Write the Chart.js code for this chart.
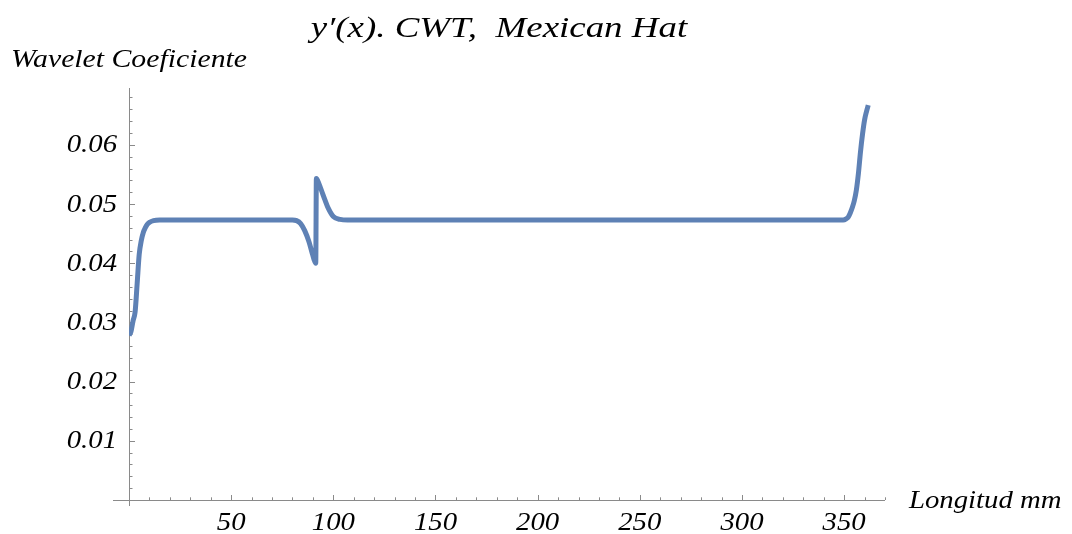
<!DOCTYPE html>
<html>
<head>
<meta charset="utf-8">
<script src="https://cdn.jsdelivr.net/npm/chart.js@4.4.1/dist/chart.umd.min.js"></script>
<style>
html,body{margin:0;padding:0;background:#fff;}
#wrap{width:1072px;height:534px;}
</style>
</head>
<body>
<div id="wrap"><canvas id="c" width="1072" height="534"></canvas></div>
<script>
const titleText = "y\u2032(x). CWT,  Mexican Hat";
const yAxisTitle = "Wavelet Coeficiente";
const xAxisTitle = "Longitud mm";

const xs = [0, 1, 2, 3, 4, 5, 6, 7, 8, 9, 10, 12, 15, 20, 40, 60, 75, 80, 82, 84, 86, 88, 89.5, 90.5, 91.4,
            91.7, 93, 94.3, 95.9, 97.5, 100, 103.3, 107, 120, 200, 300, 349.5, 351, 352, 353, 354, 355,
            356, 357, 358, 359, 360, 361, 361.8];
const ys = [0.0278, 0.0285, 0.0303, 0.0318, 0.0366, 0.0415, 0.0438, 0.0452, 0.0460, 0.0466, 0.0469, 0.0472, 0.0473, 0.0473, 0.0473, 0.0473, 0.0473, 0.0473, 0.0472, 0.0467, 0.0455, 0.0437, 0.0419, 0.0407, 0.0400,
            0.0543, 0.0534, 0.0522, 0.0507, 0.0493, 0.0479, 0.0474, 0.0473, 0.0473, 0.0473, 0.0473, 0.0473, 0.0475, 0.0478, 0.0485, 0.0494, 0.0506,
            0.0524, 0.0552, 0.0588, 0.0618, 0.0642, 0.0657, 0.0667];

const xMin = 0, xMax = 370, xStep = 10, xMajor = 50;
const yMin = 0, yMax = 0.0696, yStep = 0.002, yMajor = 0.01;

const points = xs.map((x, i) => ({x: x, y: ys[i]}));

const FONT = '"Liberation Serif", "Times New Roman", serif';
function stretchText(ctx, txt, x, y, size, sx, align) {
  ctx.save();
  ctx.font = 'italic ' + size + 'px ' + FONT;
  ctx.textBaseline = 'alphabetic';
  ctx.textAlign = 'left';
  ctx.fillStyle = '#000';
  const w = ctx.measureText(txt).width * sx;
  const left = align === 'center' ? x - w / 2 : (align === 'right' ? x - w : x);
  ctx.translate(left, y);
  ctx.scale(sx, 1);
  ctx.fillText(txt, 0, 0);
  ctx.restore();
}
function isMult(v, m) { const r = v / m; return Math.abs(r - Math.round(r)) < 1e-6; }

const deco = {
  id: 'deco',
  beforeDatasetsDraw(chart) {
    const ctx = chart.ctx, xs_ = chart.scales.x, ys_ = chart.scales.y;
    const x0 = xs_.getPixelForValue(0), y0 = ys_.getPixelForValue(0);
    ctx.save();
    ctx.strokeStyle = '#8a8a8a';
    ctx.lineWidth = 1;
    ctx.beginPath();
    ctx.moveTo(x0 - 16, y0 + 0.5); ctx.lineTo(xs_.right, y0 + 0.5);
    ctx.moveTo(x0 + 0.5, ys_.top); ctx.lineTo(x0 + 0.5, y0 + 6);
    xs_.ticks.forEach(t => {
      if (t.value <= 0) return;
      const px = Math.round(xs_.getPixelForValue(t.value)) + 0.5;
      const len = isMult(t.value, xMajor) ? 5 : 2.7;
      ctx.moveTo(px, y0); ctx.lineTo(px, y0 - len);
    });
    ys_.ticks.forEach(t => {
      if (t.value <= 0) return;
      const py = Math.round(ys_.getPixelForValue(t.value)) + 0.5;
      const len = isMult(t.value, yMajor) ? 6 : 3.5;
      ctx.moveTo(x0, py); ctx.lineTo(x0 + len, py);
    });
    ctx.stroke();
    ctx.restore();
  },
  afterDraw(chart) {
    const ctx = chart.ctx, xs_ = chart.scales.x, ys_ = chart.scales.y;
    const x0 = xs_.getPixelForValue(0), y0 = ys_.getPixelForValue(0);
    xs_.ticks.forEach(t => {
      if (t.value > 0 && isMult(t.value, xMajor)) {
        stretchText(ctx, String(Math.round(t.value)), xs_.getPixelForValue(t.value), y0 + 30, 25, 1.15, 'center');
      }
    });
    ys_.ticks.forEach(t => {
      if (t.value > 0 && isMult(t.value, yMajor)) {
        stretchText(ctx, t.value.toFixed(2), x0 - 12, ys_.getPixelForValue(t.value) + 7.5, 25, 1.15, 'right');
      }
    });
    stretchText(ctx, titleText, 499, 37, 30, 1.23, 'center');
    stretchText(ctx, yAxisTitle, 11, 67, 25, 1.19, 'left');
    stretchText(ctx, xAxisTitle, 909, 508, 25, 1.15, 'left');
  }
};

new Chart(document.getElementById('c'), {
  type: 'line',
  data: {
    datasets: [{
      data: points,
      borderColor: '#5E81B5',
      borderWidth: 5,
      pointRadius: 0,
      fill: false,
      cubicInterpolationMode: 'monotone',
      borderCapStyle: 'butt',
      borderJoinStyle: 'round'
    }]
  },
  options: {
    responsive: false,
    animation: false,
    layout: {padding: {left: 129, right: 187, top: 88, bottom: 34}},
    plugins: {legend: {display: false}, tooltip: {enabled: false}, title: {display: false}},
    scales: {
      x: {
        type: 'linear', min: xMin, max: xMax,
        ticks: {display: false, stepSize: xStep, includeBounds: false},
        grid: {display: false}, border: {display: false},
        afterFit: s => { s.height = 0; }
      },
      y: {
        type: 'linear', min: yMin, max: yMax,
        ticks: {display: false, stepSize: yStep, includeBounds: false},
        grid: {display: false}, border: {display: false},
        afterFit: s => { s.width = 0; }
      }
    }
  },
  plugins: [deco]
});
</script>
</body>
</html>
